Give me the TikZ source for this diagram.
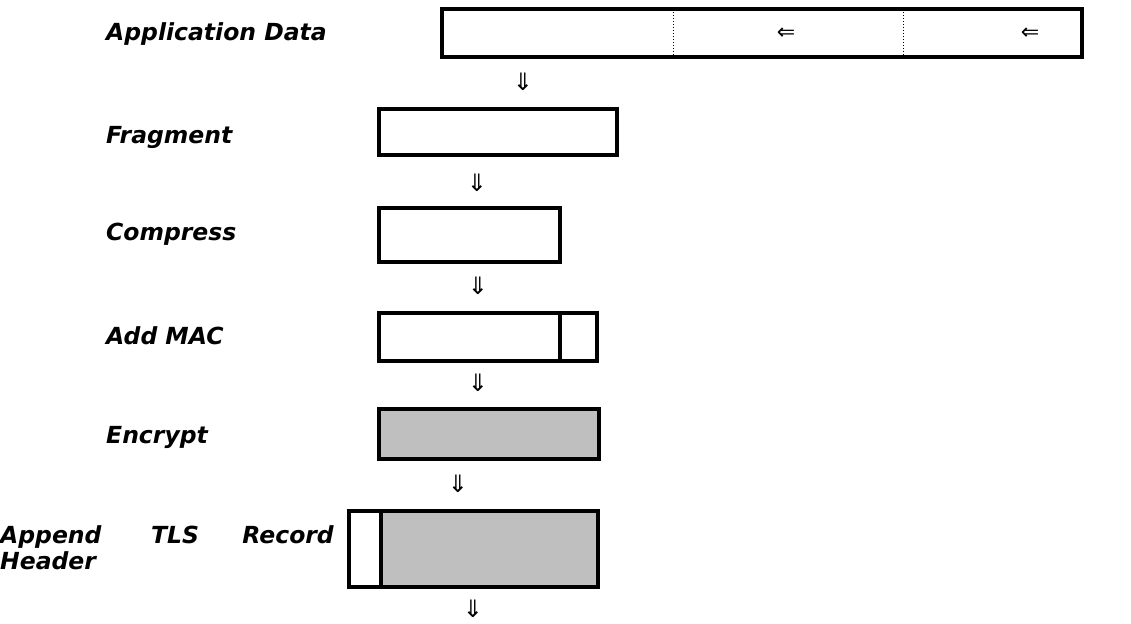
\documentclass[tikz,border=0pt]{standalone}
\usepackage{fontspec}
\setmainfont{DejaVu Sans}
\begin{document}
\begin{tikzpicture}[x=1pt,y=-1pt,
  lab/.style={anchor=base west,inner sep=0pt,font=\fontsize{23.5}{28}\selectfont\bfseries\itshape},
  blk/.style={draw=black,line width=3.5pt},
  gblk/.style={draw=black,line width=3.5pt,fill=gray!50},
  dn/.style={inner sep=0pt,font=\fontsize{24}{28}\selectfont\itshape},
  lft/.style={inner sep=0pt,font=\fontsize{22}{26}\selectfont}]
\useasboundingbox (0,0) rectangle (1131,623);
% Application data
\draw[blk] (442,9) rectangle (1082,57);
\draw[line width=1pt,dotted] (673,9) -- (673,57);
\draw[line width=1pt,dotted] (903,9) -- (903,57);
\node[lft] (l1) at (786,34) {⇐};
\node[lft] (l2) at (1030,34) {⇐};
\node[lab] (tapp) at (106,41) {Application Data};
\node[dn] (a1) at (523,82) {⇓};
% Fragment
\draw[blk] (379,109) rectangle (617,155);
\node[lab] (tfrag) at (106,143) {Fragment};
\node[dn] (a2) at (477,183) {⇓};
% Compress
\draw[blk] (379,208) rectangle (560,262);
\node[lab] (tcomp) at (106,240) {Compress};
\node[dn] (a3) at (478,286) {⇓};
% Add MAC
\draw[blk] (379,313) rectangle (597,361);
\draw[blk] (560,313) -- (560,361);
\node[lab] (tmac) at (106,344) {Add MAC};
\node[dn] (a4) at (478,383) {⇓};
% Encrypt
\draw[gblk] (379,409) rectangle (599,459);
\node[lab] (tenc) at (106,443) {Encrypt};
\node[dn] (a5) at (458,484) {⇓};
% Append header
\draw[gblk] (381,511) rectangle (598,587);
\draw[blk] (349,511) rectangle (381,587);
\node[lab] (tapp1) at (0,543) {Append};
\node[lab] (tapp2) at (151,543) {TLS};
\node[lab,anchor=base east] (tapp3) at (334,543) {Record};
\node[lab] (tapp4) at (0,569) {Header};
\node[dn] (a6) at (473,609) {⇓};
\end{tikzpicture}
\end{document}
